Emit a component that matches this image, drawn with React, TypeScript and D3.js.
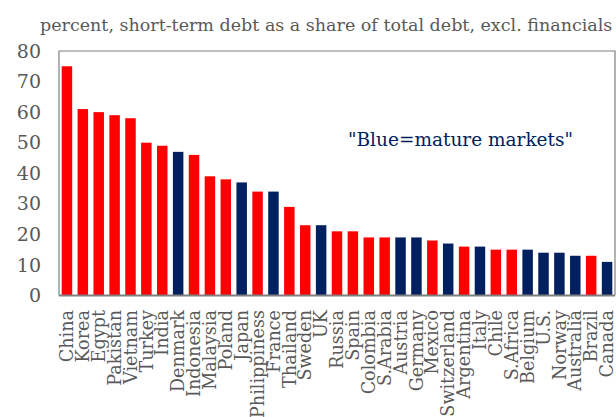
import React from "react";
import * as d3 from "d3";

const countries = ["China","Korea","Egypt","Pakistan","Vietnam","Turkey","India","Denmark","Indonesia","Malaysia","Poland","Japan","Philippiness","France","Thailand","Sweden","UK","Russia","Spain","Colombia","S.Arabia","Austria","Germany","Mexico","Switzerland","Argentina","Italy","Chile","S.Africa","Belgium","U.S.","Norway","Australia","Brazil","Canada"];
const values = [75,61,60,59,58,50,49,47,46,39,38,37,34,34,29,23,23,21,21,19,19,19,19,18,17,16,16,15,15,15,14,14,13,13,11];
const mature = [false,false,false,false,false,false,false,true,false,false,false,true,false,true,false,false,true,false,false,false,false,true,true,false,true,false,true,false,false,true,true,true,true,false,true];
const yTicks = [0,10,20,30,40,50,60,70,80];
const title = "percent, short-term debt as a share of total debt, excl. financials";
const legendText = "\"Blue=mature markets\"";

const W = 616, H = 417;
const left = 59, right = 615, top = 51, bottom = 295.5;
const FONT = "'DejaVu Serif', serif";
const GREY = "#595959";
const RED = "#FF0000";
const NAVY = "#002060";

export default function App() {
  const x = d3.scaleBand<string>().domain(countries).range([left, right]).paddingInner(0.34).paddingOuter(0.17);
  const y = d3.scaleLinear().domain([0, 80]).range([bottom, top]);
  return (
    <div style={{ position: "absolute", left: 0, top: 0 }}>
      <svg width={W} height={H} style={{ display: "block", background: "#fff" }}>
        <text x={40} y={31} fontFamily={FONT} fontSize={17.5} fill={GREY}>{title}</text>
        {yTicks.map((t) => (
          <text key={t} x={41} y={y(t)} dy="0.35em" textAnchor="end" fontFamily={FONT} fontSize={19} fill={GREY}>{t}</text>
        ))}
        {countries.map((c, i) => (
          <rect key={c} x={x(c)} y={y(values[i])} width={x.bandwidth()} height={y(0) - y(values[i])} fill={mature[i] ? NAVY : RED} />
        ))}
        <path d={`M${left},${bottom} V${top} H${right} V${bottom}`} fill="none" stroke="#808080" strokeWidth={1.2} />
        <line x1={left} x2={right} y1={bottom} y2={bottom} stroke="#7f7f7f" strokeWidth={2} />
        {countries.map((c) => {
          const cx = (x(c) as number) + x.bandwidth() / 2;
          return (
            <text key={c} transform={`translate(${cx},310) rotate(-90)`} textAnchor="end" dy="0.35em" fontFamily={FONT} fontSize={17.6} fill={GREY}>{c}</text>
          );
        })}
        <text x={348} y={146} fontFamily={FONT} fontSize={18.5} fill={NAVY}>{legendText}</text>
      </svg>
    </div>
  );
}
